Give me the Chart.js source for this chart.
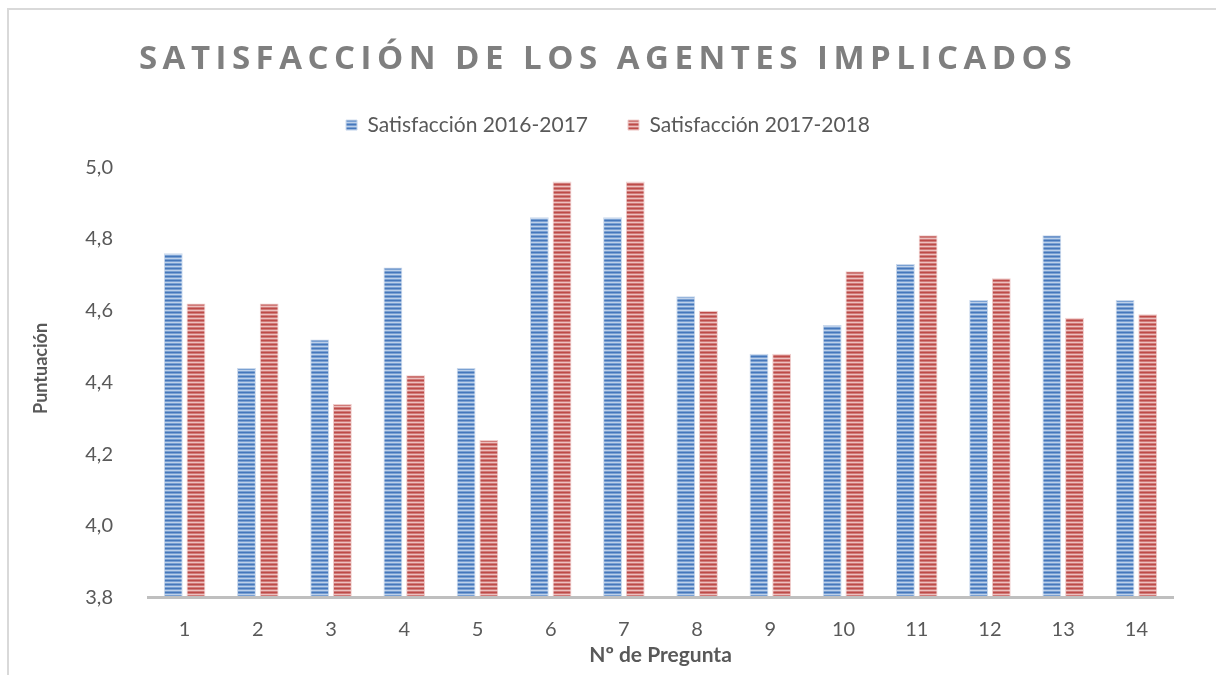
<!DOCTYPE html>
<html>
<head>
<meta charset="utf-8">
<script src="https://cdn.jsdelivr.net/npm/chart.js@4"></script>
<style>
  body { margin: 0; background: #fff; }
  #frame { position: absolute; left: 7px; top: 8px; width: 1300px; height: 665px; border-left: 2px solid #d9d9d9; border-top: 2px solid #d9d9d9; }
  #chart { position: absolute; left: 0; top: 0; }
</style>
</head>
<body>
<div id="frame"></div>
<canvas id="chart" width="1216" height="675"></canvas>
<script>
const preguntas = ['1', '2', '3', '4', '5', '6', '7', '8', '9', '10', '11', '12', '13', '14'];
const satisfaccion1617 = [4.76, 4.44, 4.52, 4.72, 4.44, 4.86, 4.86, 4.64, 4.48, 4.56, 4.73, 4.63, 4.81, 4.63];
const satisfaccion1718 = [4.62, 4.62, 4.34, 4.42, 4.24, 4.96, 4.96, 4.60, 4.48, 4.71, 4.81, 4.69, 4.58, 4.59];
const yTicks = ['3,8', '4,0', '4,2', '4,4', '4,6', '4,8', '5,0'];

const canvas = document.getElementById('chart');
const ctx = canvas.getContext('2d');

// horizontal stripe fill like the excel pattern
function stripes(colors) {
  const c = document.createElement('canvas');
  c.width = 8;
  c.height = colors.length;
  const g = c.getContext('2d');
  colors.forEach((col, i) => {
    g.fillStyle = col;
    g.fillRect(0, i, 8, 1);
  });
  return ctx.createPattern(c, 'repeat');
}

const bluePattern = stripes(['#4677bb', '#79a0d2', '#bdd0ea', '#79a0d2']);
const redPattern = stripes(['#bd4b48', '#d07b79', '#edc0bf', '#d07b79']);

Chart.defaults.font.family = 'Lato';
Chart.defaults.color = '#595959';

const chart = new Chart(ctx, {
  type: 'bar',
  data: {
    labels: preguntas,
    datasets: [{
      label: 'Satisfacción 2016-2017',
      data: satisfaccion1617,
      backgroundColor: bluePattern,
      borderColor: '#c9d8ec',
      borderWidth: 1,
      categoryPercentage: 0.62,
      barPercentage: 0.83
    }, {
      label: 'Satisfacción 2017-2018',
      data: satisfaccion1718,
      backgroundColor: redPattern,
      borderColor: '#efcdcc',
      borderWidth: 1,
      categoryPercentage: 0.62,
      barPercentage: 0.83
    }]
  },
  options: {
    responsive: false,
    animation: false,
    layout: {
      padding: 0
    },
    plugins: {
      title: {
        display: true,
        text: 'SATISFACCIÓN DE LOS AGENTES IMPLICADOS',
        color: '#7f7f7f',
        font: { family: 'Open Sans', size: 33, weight: 'bold' },
        padding: { top: 40, bottom: -5 }
      },
      legend: {
        position: 'top',
        labels: {
          font: { size: 21 },
          color: '#595959',
          boxWidth: 11,
          boxHeight: 10,
          padding: 40
        }
      },
      tooltip: { enabled: false }
    },
    scales: {
      x: {
        grid: { display: false, drawTicks: false, z: 1 },
        border: { display: true, color: '#bfbfbf', width: 3, z: 1 },
        ticks: { font: { size: 20 }, color: '#595959', padding: 20, z: 1 },
        title: {
          display: true,
          text: 'Nº de Pregunta',
          color: '#595959',
          font: { size: 21, weight: 'bold' },
          padding: { top: -19, bottom: 7 }
        }
      },
      y: {
        min: 3.8,
        max: 5.0,
        grid: { display: false, drawTicks: false },
        border: { display: false },
        ticks: {
          stepSize: 0.2,
          font: { size: 20 },
          color: '#595959',
          padding: 35,
          callback: (value, index) => yTicks[index]
        },
        title: {
          display: true,
          text: 'Puntuación',
          color: '#595959',
          font: { size: 18, weight: 'bold' },
          padding: { top: 30, bottom: 0 }
        },
        afterFit: s => { s.width = 148; }
      },
      // empty right margin so title and legend stay centred on the page
      yRight: {
        position: 'right',
        grid: { display: false, drawTicks: false },
        border: { display: false },
        ticks: { display: false },
        afterFit: s => { s.width = 43; }
      }
    }
  }
});

// letter spacing for the title, extra room under the legend
const titleBox = chart.titleBlock;
const drawTitle = titleBox.draw;
titleBox.draw = function () {
  const c = this.ctx;
  c.save();
  c.letterSpacing = '5.5px';
  drawTitle.apply(this, arguments);
  c.restore();
};
const legendBox = chart.legend;
const fitLegend = legendBox.fit;
legendBox.fit = function () {
  fitLegend.apply(this, arguments);
  this.height += 21.5;
};
// y title sits a little above the middle of the plot in the original
const yScale = chart.scales.y;
const drawYTitle = yScale.drawTitle;
yScale.drawTitle = function () {
  const c = this.ctx;
  c.save();
  c.translate(0, -14);
  drawYTitle.apply(this, arguments);
  c.restore();
};
chart.update();
</script>
</body>
</html>
